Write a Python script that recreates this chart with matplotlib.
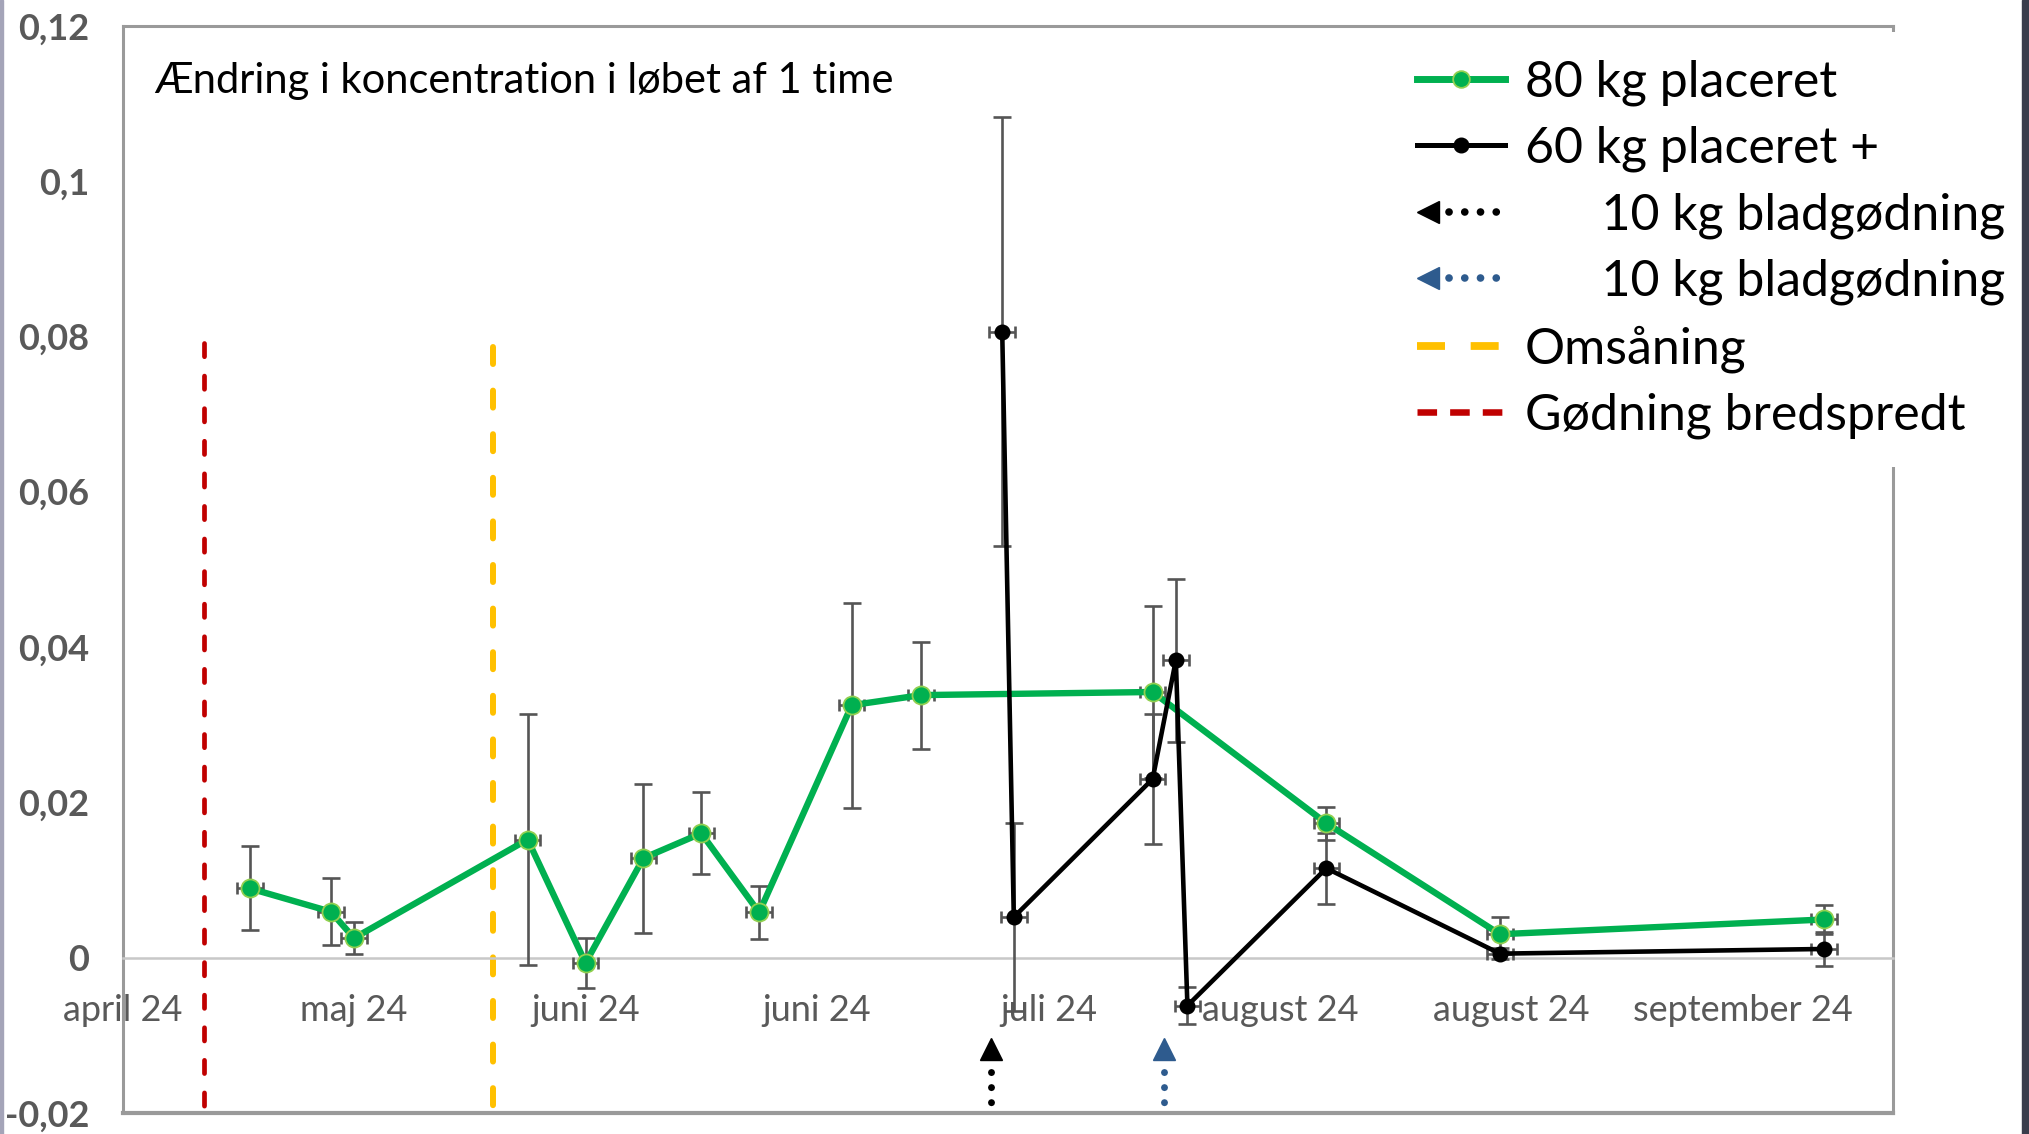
import matplotlib
matplotlib.use("Agg")
import matplotlib.pyplot as plt
import matplotlib.dates as mdates
from matplotlib.lines import Line2D
from matplotlib.legend_handler import HandlerBase
from matplotlib.patches import Rectangle
import datetime as dt
import numpy as np

plt.rcParams['font.family'] = ['Lato', 'DejaVu Sans']

# ---------------- data ----------------
green_dates = ["2024-05-04", "2024-05-11", "2024-05-13", "2024-05-28", "2024-06-02",
               "2024-06-07", "2024-06-12", "2024-06-17", "2024-06-25", "2024-07-01",
               "2024-07-21", "2024-08-05", "2024-08-20", "2024-09-17"]
green_vals = [0.0089, 0.0059, 0.0025, 0.0152, -0.0007, 0.0128, 0.0160, 0.0058,
              0.0325, 0.0338, 0.0342, 0.0173, 0.0030, 0.0049]
green_err = [0.0054, 0.0043, 0.0021, 0.0162, 0.0032, 0.0096, 0.0053, 0.0034,
             0.0132, 0.0069, 0.0111, 0.0021, 0.0022, 0.0019]

black_dates = ["2024-07-08", "2024-07-09", "2024-07-21", "2024-07-23", "2024-07-24",
               "2024-08-05", "2024-08-20", "2024-09-17"]
black_vals = [0.0806, 0.0052, 0.0230, 0.0383, -0.0062, 0.0115, 0.0005, 0.0011]
black_err = [0.0276, 0.0121, 0.0084, 0.0105, 0.0024, 0.0046, 0.0007, 0.0022]

date_err_days = 1.1

red_date = "2024-04-30"      # Gødning bredspredt
yellow_date = "2024-05-25"   # Omsåning
black_arrow_date = "2024-07-07"
blue_arrow_date = "2024-07-22"

tick_dates = ["2024-04-23", "2024-05-13", "2024-06-02", "2024-06-22",
              "2024-07-12", "2024-08-01", "2024-08-21", "2024-09-10"]
tick_labels = ["april 24", "maj 24", "juni 24", "juni 24", "juli 24",
               "august 24", "august 24", "september 24"]
x_start, x_end = "2024-04-23", "2024-09-23"

y_ticks = [-0.02, 0, 0.02, 0.04, 0.06, 0.08, 0.1, 0.12]
y_labels = ["-0,02", "0", "0,02", "0,04", "0,06", "0,08", "0,1", "0,12"]

title_text = "Ændring i koncentration i løbet af 1 time"
legend_labels = ["80 kg placeret", "60 kg placeret +", "      10 kg bladgødning",
                 "      10 kg bladgødning", "Omsåning", "Gødning bredspredt"]

# ---------------- style ----------------
GREEN = "#00b050"
GREEN_EDGE = "#92d050"
BLUE = "#2e5b8e"
YELLOW = "#ffc000"
RED = "#c00000"
GRAY = "#595959"
ERR = "#555555"


def dn(s):
    return mdates.date2num(dt.datetime.strptime(s, "%Y-%m-%d"))


gx = np.array([dn(d) for d in green_dates])
bx = np.array([dn(d) for d in black_dates])

fig = plt.figure(figsize=(20.29, 11.34), dpi=100)
fig.patch.set_facecolor("white")
ax = fig.add_axes([0.0604, 0.0187, 0.8728, 0.9585])

ax.set_xlim(dn(x_start), dn(x_end))
ax.set_ylim(-0.02, 0.12)

# vertical event lines (drawn top-down so the dash pattern starts at the top)
ax.plot([dn(red_date)] * 2, [0.0792, -0.02], color=RED, lw=3.4,
        dashes=(2.8, 4.1), dash_capstyle="round", zorder=2, clip_on=False)
ax.plot([dn(yellow_date)] * 2, [0.0787, -0.02], color=YELLOW, lw=4.3,
        dashes=(2.85, 4.45), dash_capstyle="round", zorder=2, clip_on=False)

# error bars
for xs, vs, es in [(gx, green_vals, green_err), (bx, black_vals, black_err)]:
    ax.errorbar(xs, vs, yerr=es, fmt="none", ecolor=ERR, elinewidth=1.9,
                capsize=6.5, capthick=1.9, zorder=3)
    ax.errorbar(xs, vs, xerr=date_err_days, fmt="none", ecolor=ERR, elinewidth=1.9,
                capsize=4.0, capthick=1.9, zorder=3)

# series
ax.plot(gx, green_vals, color=GREEN, lw=4.6, marker="o", ms=13, mfc=GREEN,
        mec=GREEN_EDGE, mew=1.3, zorder=4, solid_joinstyle="round")
ax.plot(bx, black_vals, color="black", lw=3.3, marker="o", ms=10.5, mfc="black",
        mec="black", zorder=5, solid_joinstyle="round")

# arrows at bottom
for d, c in [(black_arrow_date, "black"), (blue_arrow_date, BLUE)]:
    x = dn(d)
    ax.plot([x], [-0.0118], marker="^", ms=16, color=c, mec=c, zorder=5, clip_on=False)
    ax.plot([x, x], [-0.0147, -0.0187], color=c, lw=5.0,
            linestyle=(0, (0.01, 2.16)), dash_capstyle="round", zorder=5)

# axes styling
ax.set_xticks([dn(d) for d in tick_dates])
ax.set_xticklabels(tick_labels)
ax.set_yticks(y_ticks)
ax.set_yticklabels(y_labels)
ax.tick_params(axis="x", length=0, pad=26, labelsize=26, labelcolor=GRAY)
ax.tick_params(axis="y", length=0, pad=24, labelsize=26, labelcolor=GRAY)
for lab in ax.get_yticklabels():
    lab.set_fontweight("bold")

ax.spines["bottom"].set_position(("data", 0))
ax.spines["bottom"].set_color("#c8c8c8")
ax.spines["bottom"].set_linewidth(1.8)
for s in ["top", "right", "left"]:
    ax.spines[s].set_color("#9a9a9a")
    ax.spines[s].set_linewidth(2.2)
ax.plot([0, 1], [0, 0], transform=ax.transAxes, color="#9a9a9a", lw=3.0,
        clip_on=False, zorder=6)

ax.text(0.018, 0.949, title_text, transform=ax.transAxes, fontsize=30,
        color="black", ha="left", va="center")


# legend
class ArrowProxy:
    def __init__(self, color):
        self.color = color


class ArrowHandler(HandlerBase):
    def create_artists(self, legend, orig_handle, xdescent, ydescent, width, height,
                       fontsize, trans):
        y = height / 2 - ydescent
        x0 = -xdescent
        line = Line2D([x0 + width * 0.36, x0 + width], [y, y], color=orig_handle.color,
                      lw=5.5, linestyle=(0, (0.01, 2.05)), dash_capstyle="round")
        tri = Line2D([x0 + width * 0.12], [y], marker="<", ms=16, color=orig_handle.color,
                     mec=orig_handle.color, linestyle="none")
        line.set_transform(trans)
        tri.set_transform(trans)
        return [line, tri]


h1 = Line2D([], [], color=GREEN, lw=5, marker="o", ms=12, mfc=GREEN, mec=GREEN_EDGE, mew=1.3)
h2 = Line2D([], [], color="black", lw=3.6, marker="o", ms=10.5)
h3 = ArrowProxy("black")
h4 = ArrowProxy(BLUE)
h5 = Line2D([], [], color=YELLOW, lw=5.6, dashes=(3.6, 3.3))
h6 = Line2D([], [], color=RED, lw=4.7, dashes=(3.0, 2.0))

leg = ax.legend([h1, h2, h3, h4, h5, h6], legend_labels,
                handler_map={ArrowProxy: ArrowHandler()},
                loc="upper left", bbox_to_anchor=(0.685, 0.972),
                bbox_transform=fig.transFigure, fontsize=36, frameon=True,
                facecolor="white", edgecolor="none", framealpha=1.0, fancybox=False,
                handlelength=1.75, handletextpad=0.4, labelspacing=0.40,
                borderpad=0.55, borderaxespad=0)
leg.set_zorder(10)

# page edges
fig.patches.append(Rectangle((0, 0), 0.0015, 1, transform=fig.transFigure,
                             color="#a4a4b8", zorder=0))
fig.patches.append(Rectangle((0.9965, 0), 0.0035, 1, transform=fig.transFigure,
                             color="#3a3d4c", zorder=0))

fig.savefig("out.png", dpi=100, facecolor="white")
